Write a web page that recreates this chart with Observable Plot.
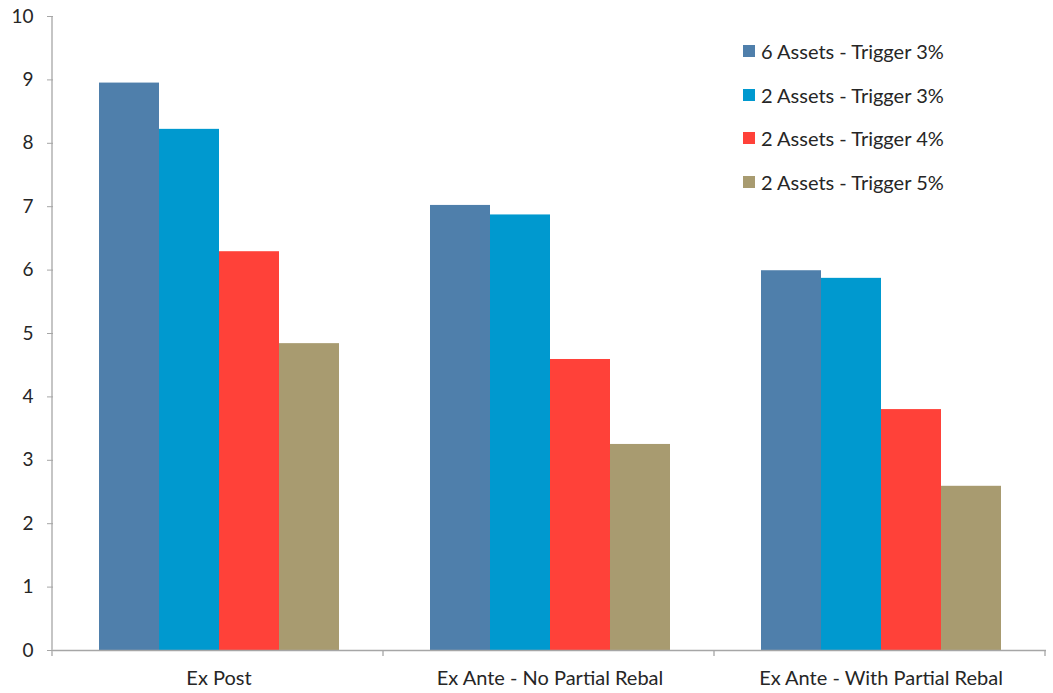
<!DOCTYPE html>
<html>
<head>
<meta charset="utf-8">
<script src="https://cdn.jsdelivr.net/npm/d3@7"></script>
<script src="https://cdn.jsdelivr.net/npm/@observablehq/plot@0.6"></script>
<style>
  body { margin: 0; background: #fff; }
  #chart { position: relative; width: 1053px; height: 693px; font-family: Lato, "Open Sans", sans-serif; }
  .legend { position: absolute; left: 743px; top: 29px; }
  .legend-row { display: flex; align-items: center; height: 43.7px; font-size: 20px; color: #262626; white-space: nowrap; }
  .legend-swatch { width: 12px; height: 12px; margin-right: 6px; flex: none; }
</style>
</head>
<body>
<div id="chart"></div>
<script>
// Rebalancing scenarios (one cluster of bars each)
const groups = ["Ex Post", "Ex Ante - No Partial Rebal", "Ex Ante - With Partial Rebal"];

// Portfolio configurations (one bar per cluster)
const series = ["6 Assets - Trigger 3%", "2 Assets - Trigger 3%", "2 Assets - Trigger 4%", "2 Assets - Trigger 5%"];
const colors = ["#4F7FAB", "#0099CF", "#FF4139", "#A89B70"];

// Values per configuration, in the order of `groups`
const sixAssetsTrigger3 = [8.95, 7.02, 5.99];
const twoAssetsTrigger3 = [8.22, 6.87, 5.87];
const twoAssetsTrigger4 = [6.29, 4.59, 3.80];
const twoAssetsTrigger5 = [4.84, 3.25, 2.59];

const yTicks = [0, 1, 2, 3, 4, 5, 6, 7, 8, 9, 10];

const valuesBySeries = [sixAssetsTrigger3, twoAssetsTrigger3, twoAssetsTrigger4, twoAssetsTrigger5];
const data = [];
groups.forEach((g, gi) => {
  series.forEach((s, si) => data.push({group: g, series: s, value: valuesBySeries[si][gi]}));
});

const axisGray = "#A6A6A6";
const textColor = "#262626";

const plot = Plot.plot({
  width: 1053,
  height: 693,
  marginLeft: 52,
  marginRight: 6,
  marginTop: 16,
  marginBottom: 43,
  style: {fontFamily: "Lato, 'Open Sans', sans-serif", fontSize: "19px", color: textColor, background: "#fff"},
  fx: {domain: groups, padding: 0, label: null},
  x: {domain: series, paddingInner: 0, paddingOuter: 0.755, axis: null},
  y: {domain: [0, 10], label: null},
  color: {domain: series, range: colors},
  marks: [
    Plot.barY(data, {fx: "group", x: "series", y: "value", fill: "series"}),
    Plot.ruleY([0], {stroke: axisGray, strokeWidth: 1.3}),
    Plot.axisY({ticks: yTicks, tickSize: 6, tickPadding: 14, stroke: axisGray, fill: textColor, label: null, tickFormat: d => String(d)}),
    Plot.axisFx({anchor: "bottom", tickSize: 0, tickPadding: 20, fontSize: 20, fill: textColor, label: null})
  ]
});

// Vertical axis line and the tick marks separating the clusters
const fx = plot.scale("fx");
const y = plot.scale("y");
const svg = d3.select(plot);
const g = svg.append("g").attr("stroke", axisGray).attr("stroke-width", 1.3);
g.append("line")
  .attr("x1", fx.range[0]).attr("x2", fx.range[0])
  .attr("y1", y.range[0]).attr("y2", y.range[1]);
const edges = d3.range(fx.domain.length + 1).map(i => fx.range[0] + i * fx.step);
g.selectAll("line.sep").data(edges).join("line")
  .attr("class", "sep")
  .attr("x1", d => d).attr("x2", d => d)
  .attr("y1", y.range[0]).attr("y2", y.range[0] + 6);

const chart = document.getElementById("chart");
chart.appendChild(plot);

// Legend
const legend = d3.select(chart).append("div").attr("class", "legend");
const rows = legend.selectAll("div").data(series).join("div").attr("class", "legend-row");
rows.append("span").attr("class", "legend-swatch").style("background", (d, i) => colors[i]);
rows.append("span").text(d => d);
</script>
</body>
</html>
